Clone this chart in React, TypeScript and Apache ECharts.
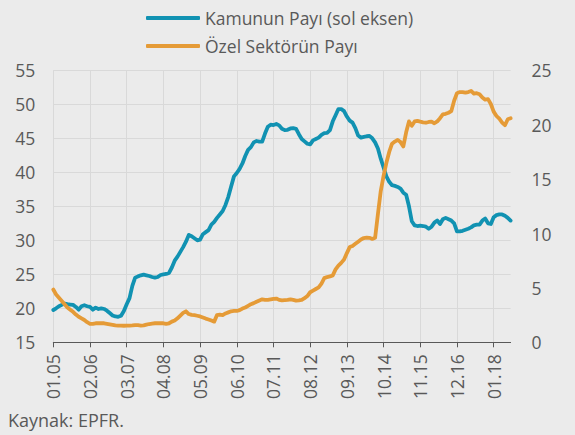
import React, { useEffect, useRef } from "react";
import * as echarts from "echarts";

const START_YEAR = 2005;
const START_MONTH = 1;
const MONTH_COUNT = 163;

const categories: string[] = Array.from({ length: MONTH_COUNT }, (_, i) => {
  const m = ((START_MONTH - 1 + i) % 12) + 1;
  const y = START_YEAR + Math.floor((START_MONTH - 1 + i) / 12);
  return `${String(m).padStart(2, "0")}.${String(y % 100).padStart(2, "0")}`;
});

const seriesNames = ["Kamunun Payı (sol eksen)", "Özel Sektörün Payı"];

const kamunPayi: number[] = [
  19.75, 20.0, 20.3, 20.5, 20.7, 20.6, 20.55, 20.5, 20.2, 19.8,
  20.3, 20.45, 20.3, 20.2, 19.8, 20.1, 19.9, 20.0, 19.9, 19.65,
  19.3, 18.95, 18.8, 18.75, 18.9, 19.6, 20.6, 21.5, 23.3, 24.5,
  24.7, 24.85, 24.95, 24.85, 24.75, 24.6, 24.5, 24.6, 24.9, 25.0,
  25.05, 25.2, 26.0, 27.0, 27.6, 28.3, 29.0, 29.8, 30.8, 30.6,
  30.3, 30.0, 30.1, 30.9, 31.2, 31.5, 32.3, 32.7, 33.3, 33.8,
  34.3, 35.2, 36.4, 37.9, 39.4, 39.9, 40.5, 41.3, 42.4, 43.3,
  43.7, 44.4, 44.6, 44.5, 44.5, 45.7, 46.7, 47.0, 46.95, 47.1,
  46.9, 46.4, 46.2, 46.25, 46.45, 46.5, 46.4, 45.6, 44.9, 44.55,
  44.2, 44.1, 44.7, 44.9, 45.1, 45.5, 45.75, 45.8, 46.2, 47.5,
  48.4, 49.3, 49.3, 49.0, 48.2, 47.6, 47.3, 46.5, 45.4, 45.1,
  45.2, 45.3, 45.35, 45.0, 44.4, 43.5, 42.0, 40.7, 39.4, 38.6,
  38.1, 38.0, 37.85, 37.6, 37.0, 36.7, 35.0, 32.8, 32.2, 32.1,
  32.15, 32.1, 32.0, 31.7, 32.0, 32.6, 32.9, 32.4, 33.1, 33.3,
  33.1, 32.9, 32.5, 31.3, 31.3, 31.4, 31.55, 31.7, 31.9, 32.2,
  32.3, 32.3, 32.9, 33.2, 32.5, 32.4, 33.4, 33.7, 33.8, 33.8,
  33.6, 33.3, 32.9,
];

const ozelPayi: number[] = [
  4.85, 4.4, 4.1, 3.8, 3.5, 3.2, 3.0, 2.8, 2.55, 2.35,
  2.2, 2.05, 1.85, 1.7, 1.7, 1.75, 1.75, 1.75, 1.75, 1.7,
  1.65, 1.6, 1.55, 1.53, 1.53, 1.52, 1.53, 1.53, 1.55, 1.58,
  1.57, 1.53, 1.55, 1.62, 1.68, 1.72, 1.75, 1.75, 1.75, 1.75,
  1.7, 1.75, 1.9, 2.0, 2.2, 2.45, 2.7, 2.85, 2.6, 2.52,
  2.5, 2.44, 2.38, 2.28, 2.18, 2.1, 2.0, 1.9, 2.5, 2.55,
  2.5, 2.65, 2.75, 2.85, 2.88, 2.88, 2.95, 3.1, 3.2, 3.35,
  3.5, 3.6, 3.73, 3.85, 3.95, 3.9, 3.9, 3.95, 4.0, 4.02,
  3.9, 3.85, 3.88, 3.9, 3.95, 3.9, 3.83, 3.85, 3.89, 4.05,
  4.25, 4.6, 4.75, 4.9, 5.05, 5.4, 5.9, 6.0, 6.05, 6.15,
  6.7, 7.05, 7.3, 7.6, 8.2, 8.75, 8.85, 9.05, 9.25, 9.45,
  9.58, 9.62, 9.6, 9.5, 9.6, 11.8, 13.9, 15.3, 16.5, 17.5,
  18.25, 18.45, 18.6, 18.4, 18.0, 19.3, 20.3, 19.9, 20.3, 20.35,
  20.28, 20.22, 20.18, 20.25, 20.28, 20.13, 20.3, 20.6, 20.95, 21.0,
  21.1, 21.25, 22.2, 22.9, 23.0, 23.0, 22.95, 23.0, 23.1, 22.85,
  22.9, 22.8, 22.5, 22.3, 22.35, 21.9, 21.2, 20.8, 20.55, 20.2,
  19.95, 20.5, 20.6,
];

const leftTicks = { min: 15, max: 55, interval: 5 };
const rightTicks = { min: 0, max: 25, interval: 5 };
const sourceText = "Kaynak: EPFR.";

const BLUE = "#1192B2";
const ORANGE = "#E59B37";
const TEXT = "#595959";
const GRID = "#D9D9D9";
const FONT = "'Open Sans', 'DejaVu Sans', sans-serif";

export default function App() {
  const ref = useRef<HTMLDivElement>(null);

  useEffect(() => {
    if (!ref.current) return;
    const chart = echarts.init(ref.current, null, { renderer: "svg" });
    chart.setOption({
      animation: false,
      backgroundColor: "#EBEBEB",
      textStyle: { fontFamily: FONT },
      legend: {
        orient: "vertical",
        left: 141,
        top: 3,
        itemWidth: 54,
        itemHeight: 4,
        itemGap: 8,
        icon: "roundRect",
        textStyle: { fontSize: 17.5, color: TEXT, fontFamily: FONT, lineHeight: 20 },
        data: seriesNames,
      },
      grid: { left: 53.3, right: 64.4, top: 70.3, bottom: 92.7, containLabel: false },
      xAxis: {
        type: "category",
        boundaryGap: false,
        data: categories,
        axisLine: { show: true, lineStyle: { color: "#595959", width: 1 } },
        axisTick: { show: true, interval: 12, length: 5, lineStyle: { color: "#595959" } },
        axisLabel: {
          interval: 12,
          rotate: 90,
          fontSize: 17.5,
          color: TEXT,
          fontFamily: FONT,
          margin: 12,
        },
        splitLine: { show: true, interval: 12, lineStyle: { color: GRID, width: 1 } },
      },
      yAxis: [
        {
          type: "value",
          min: leftTicks.min,
          max: leftTicks.max,
          interval: leftTicks.interval,
          axisLine: { show: false },
          axisTick: { show: false },
          axisLabel: { fontSize: 17.5, color: TEXT, fontFamily: FONT, margin: 18 },
          splitLine: { show: true, lineStyle: { color: GRID, width: 1 } },
        },
        {
          type: "value",
          min: rightTicks.min,
          max: rightTicks.max,
          interval: rightTicks.interval,
          axisLine: { show: false },
          axisTick: { show: false },
          axisLabel: { fontSize: 17.5, color: TEXT, fontFamily: FONT, margin: 21 },
          splitLine: { show: false },
        },
      ],
      graphic: [
        {
          type: "text",
          left: 8,
          top: 411,
          style: { text: sourceText, fontSize: 18, fill: TEXT, fontFamily: FONT },
        },
      ],
      series: [
        {
          name: seriesNames[0],
          type: "line",
          yAxisIndex: 0,
          data: kamunPayi,
          showSymbol: false,
          lineStyle: { color: BLUE, width: 3.8, cap: "round", join: "round" },
          itemStyle: { color: BLUE },
        },
        {
          name: seriesNames[1],
          type: "line",
          yAxisIndex: 1,
          data: ozelPayi,
          showSymbol: false,
          lineStyle: { color: ORANGE, width: 3.8, cap: "round", join: "round" },
          itemStyle: { color: ORANGE },
        },
      ],
    });
    return () => chart.dispose();
  }, []);

  return (
    <div
      ref={ref}
      style={{ position: "fixed", left: 0, top: 0, width: 575, height: 435, background: "#EBEBEB" }}
    />
  );
}
